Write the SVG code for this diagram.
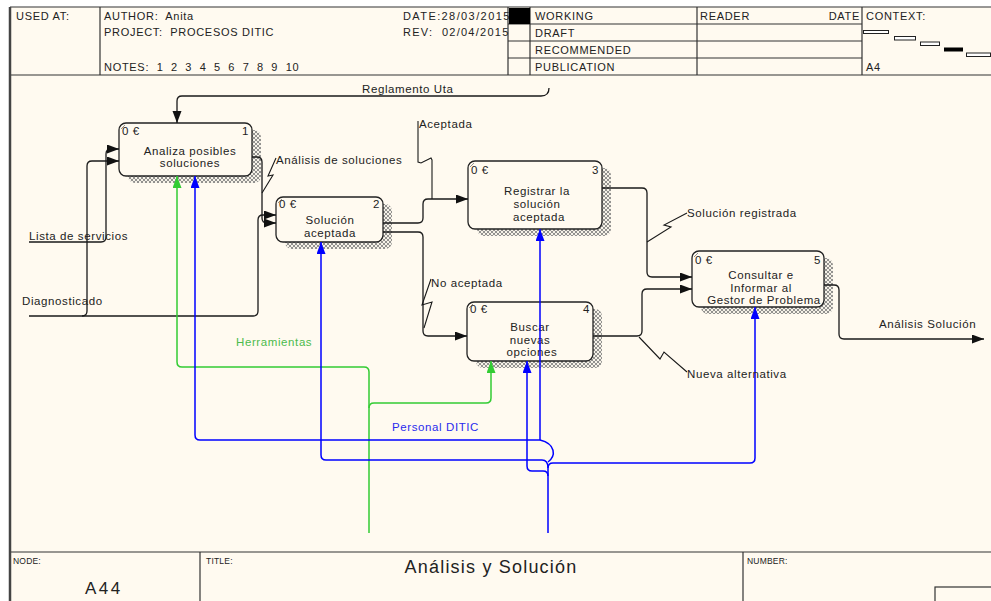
<svg xmlns="http://www.w3.org/2000/svg" width="991" height="601" viewBox="0 0 991 601">
<style>
text{font-family:"Liberation Sans",Arial,sans-serif;fill:#222}
.h{font-size:11px;letter-spacing:0.7px}
.t{font-size:11.5px;letter-spacing:0.6px}
.m{text-anchor:middle}
.e{text-anchor:end}
.f{font-size:8.5px;letter-spacing:0.2px}
.frame{stroke:#333;stroke-width:1.2;fill:none}
.box{fill:#fffaf0;stroke:#222;stroke-width:1.3}
.shadow{fill:url(#hatch)}
.k{fill:none;stroke:#1a1a1a;stroke-width:1.3}
.g{fill:none;stroke:#33cc33;stroke-width:1.5}
.b{fill:none;stroke:#0000ff;stroke-width:1.5}
.lead{fill:none;stroke:#1a1a1a;stroke-width:1.1}
</style>
<defs>
<pattern id="hatch" width="4" height="4" patternUnits="userSpaceOnUse">
<rect width="4" height="4" fill="#f6f2e8"/>
<path d="M0,4 L4,0 M-1,1 L1,-1 M3,5 L5,3 M0,0 L4,4" stroke="#7a7a7a" stroke-width="0.8"/>
</pattern>
<marker id="ak" markerUnits="userSpaceOnUse" markerWidth="13" markerHeight="10" refX="12" refY="4.5" orient="auto"><path d="M0,0 L12,4.5 L0,9 z" fill="#111"/></marker>
<marker id="ag" markerUnits="userSpaceOnUse" markerWidth="13" markerHeight="10" refX="12" refY="4.5" orient="auto"><path d="M0,0 L12,4.5 L0,9 z" fill="#33cc33"/></marker>
<marker id="ab" markerUnits="userSpaceOnUse" markerWidth="13" markerHeight="10" refX="12" refY="4.5" orient="auto"><path d="M0,0 L12,4.5 L0,9 z" fill="#0000ff"/></marker>
</defs>

<rect width="991" height="601" fill="#ffffff"/>
<rect x="10" y="7" width="981" height="594" fill="#fffaf0"/>

<g id="header">
<line x1="10" y1="7" x2="991" y2="7" class="frame"/>
<line x1="10" y1="75" x2="991" y2="75" class="frame"/>
<line x1="100" y1="7" x2="100" y2="75" class="frame"/>
<line x1="508" y1="7" x2="508" y2="75" class="frame"/>
<line x1="530" y1="7" x2="530" y2="75" class="frame"/>
<line x1="697" y1="7" x2="697" y2="75" class="frame"/>
<line x1="862" y1="7" x2="862" y2="75" class="frame"/>
<line x1="508" y1="24" x2="862" y2="24" class="frame"/>
<line x1="508" y1="41" x2="862" y2="41" class="frame"/>
<line x1="508" y1="58" x2="862" y2="58" class="frame"/>
<text x="16" y="20" class="h">USED AT:</text>
<text x="104" y="20" class="h" xml:space="preserve">AUTHOR:  Anita</text>
<text x="104" y="36" class="h" xml:space="preserve">PROJECT:  PROCESOS DITIC</text>
<text x="104" y="71" class="h" xml:space="preserve">NOTES:  1  2  3  4  5  6  7  8  9  10</text>
<text x="403" y="20" class="h" textLength="107">DATE:28/03/2015</text>
<text x="403" y="36" class="h" textLength="106" xml:space="preserve">REV:  02/04/2015</text>
<rect x="509" y="8" width="21" height="16" fill="#000"/>
<text x="535" y="20" class="h">WORKING</text>
<text x="535" y="37" class="h">DRAFT</text>
<text x="535" y="54" class="h">RECOMMENDED</text>
<text x="535" y="71" class="h">PUBLICATION</text>
<text x="700" y="20" class="h">READER</text>
<text x="860" y="20" class="h e">DATE</text>
<text x="866" y="20" class="h">CONTEXT:</text>
<text x="866" y="71" class="h">A4</text>
<rect x="863.5" y="30.5" width="25" height="3" fill="#fff" stroke="#222" stroke-width="1"/>
<rect x="894.5" y="36.5" width="21" height="3.5" fill="#fff" stroke="#222" stroke-width="1"/>
<rect x="920.5" y="42" width="19" height="3.5" fill="#fff" stroke="#222" stroke-width="1"/>
<rect x="944" y="47.5" width="19" height="4" fill="#000"/>
<rect x="966.5" y="53" width="24" height="3.5" fill="#fff" stroke="#222" stroke-width="1"/>
</g>

<g id="footer">
<line x1="10" y1="552" x2="991" y2="552" class="frame"/>
<line x1="200" y1="552" x2="200" y2="601" class="frame"/>
<line x1="743" y1="552" x2="743" y2="601" class="frame"/>
<rect x="935" y="587" width="60" height="20" class="frame"/>
<text x="13" y="564" class="f">NODE:</text>
<text x="206" y="564" class="f">TITLE:</text>
<text x="747" y="564" class="f">NUMBER:</text>
<text x="85" y="594" style="font-size:17px;letter-spacing:2.5px">A44</text>
<text x="491" y="573" class="m" style="font-size:18px;letter-spacing:1.2px">Análisis y Solución</text>
</g>
<line x1="10" y1="7" x2="10" y2="601" stroke="#444" stroke-width="2.5"/>

<g id="node1">
<rect x="128" y="130" width="133" height="53" rx="7" class="shadow"/>
<rect x="119" y="123" width="133" height="53" rx="7" class="box"/>
<line x1="121" y1="129" x2="125" y2="125" stroke="#777" stroke-width="0.8"/>
<text x="122" y="135" class="t">0 €</text>
<text x="249" y="135" class="t e">1</text>
<text x="190" y="155" class="t m">Analiza posibles</text>
<text x="190" y="167" class="t m">soluciones</text>
</g>
<g id="node2">
<rect x="285" y="204" width="107" height="45" rx="7" class="shadow"/>
<rect x="276" y="197" width="107" height="45" rx="7" class="box"/>
<line x1="278" y1="203" x2="282" y2="199" stroke="#777" stroke-width="0.8"/>
<text x="279" y="208" class="t">0 €</text>
<text x="380" y="208" class="t e">2</text>
<text x="330" y="224" class="t m">Solución</text>
<text x="330" y="237" class="t m">aceptada</text>
</g>
<g id="node3">
<rect x="477" y="168" width="134" height="68" rx="7" class="shadow"/>
<rect x="468" y="161" width="134" height="68" rx="7" class="box"/>
<line x1="470" y1="167" x2="474" y2="163" stroke="#777" stroke-width="0.8"/>
<text x="471" y="174" class="t">0 €</text>
<text x="599" y="174" class="t e">3</text>
<text x="537" y="195" class="t m">Registrar la</text>
<text x="537" y="208" class="t m">solución</text>
<text x="539" y="221" class="t m">aceptada</text>
</g>
<g id="node4">
<rect x="476" y="309" width="126" height="59" rx="7" class="shadow"/>
<rect x="467" y="302" width="126" height="59" rx="7" class="box"/>
<line x1="469" y1="308" x2="473" y2="304" stroke="#777" stroke-width="0.8"/>
<text x="470" y="313" class="t">0 €</text>
<text x="590" y="313" class="t e">4</text>
<text x="530" y="331" class="t m">Buscar</text>
<text x="530" y="344" class="t m">nuevas</text>
<text x="532" y="356" class="t m">opciones</text>
</g>
<g id="node5">
<rect x="701" y="258" width="132" height="56" rx="7" class="shadow"/>
<rect x="692" y="251" width="132" height="56" rx="7" class="box"/>
<line x1="694" y1="257" x2="698" y2="253" stroke="#777" stroke-width="0.8"/>
<text x="695" y="264" class="t">0 €</text>
<text x="821" y="264" class="t e">5</text>
<text x="761" y="279" class="t m">Consultar e</text>
<text x="761" y="292" class="t m">Informar al</text>
<text x="764" y="304" class="t m">Gestor de Problema</text>
</g>

<g id="connectors">
<path class="k" d="M549 88 Q549 96 541 96 L182 96 Q177 96 177 101 L177 123" marker-end="url(#ak)"/>
<path class="k" d="M29 242 L101 242 Q106 242 106 237 L106 154 Q106 149 111 149 L119 149" marker-end="url(#ak)"/>
<path class="k" d="M29 316 L253 316 Q258 316 258 311 L258 220 Q258 215 263 215 L276 215" marker-end="url(#ak)"/>
<path class="k" d="M82 316 Q87 316 87 311 L87 166 Q87 161 92 161 L119 161" marker-end="url(#ak)"/>
<path class="k" d="M252 157 L257 157 Q262 157 262 162 L262 218 Q262 223 267 223 L276 223" marker-end="url(#ak)"/>
<polyline class="lead" points="276,158 268,176 273,175 262,193"/>
<path class="k" d="M383 223 L418 223 Q423 223 423 218 L423 204 Q423 199 428 199 L468 199" marker-end="url(#ak)"/>
<polyline class="lead" points="418,121 418,162 421,163 431,158 432,160 432,199"/>
<path class="k" d="M383 232 L418 232 Q423 232 423 237 L423 331 Q423 336 428 336 L467 336" marker-end="url(#ak)"/>
<polyline class="lead" points="431,279 422,305 432,302 424,328"/>
<path class="k" d="M602 188 L642 188 Q647 188 647 193 L647 272 Q647 277 652 277 L692 277" marker-end="url(#ak)"/>
<polyline class="lead" points="687,213 664,225 671,227 647,242"/>
<path class="k" d="M593 336 L637 336 Q642 336 642 331 L642 294 Q642 289 647 289 L692 289" marker-end="url(#ak)"/>
<polyline class="lead" points="639,337 660,359 664,352 687,372"/>
<path class="k" d="M824 285 L834 285 Q839 285 839 290 L839 334 Q839 339 844 339 L984 339" marker-end="url(#ak)"/>
<path class="g" d="M369 533 L369 372 Q369 367 364 367 L182 367 Q177 367 177 362 L177 176" marker-end="url(#ag)"/>
<path class="g" d="M369 408 Q369 403 374 403 L486 403 Q491 403 491 398 L491 361" marker-end="url(#ag)"/>
<path class="b" d="M548 533 L548 476 Q548 471 543 471 L532 471 Q527 471 527 466 L527 361" marker-end="url(#ab)"/>
<path class="b" d="M548 476 L548 468 Q548 463 553 463 L750 463 Q755 463 755 458 L755 307" marker-end="url(#ab)"/>
<path class="b" d="M548 468 Q548 460 542 460 L326 460 Q321 460 321 455 L321 242" marker-end="url(#ab)"/>
<path class="b" d="M548 462 C556 456 556 444 540 440"/>
<path class="b" d="M540 440 L540 229" marker-end="url(#ab)"/>
<path class="b" d="M540 440 L200 440 Q195 440 195 435 L195 176" marker-end="url(#ab)"/>
</g>

<g id="labels">
<text x="362" y="93" class="t">Reglamento Uta</text>
<text x="29" y="240" class="t">Lista de servicios</text>
<text x="22" y="305" class="t">Diagnosticado</text>
<text x="276" y="164" class="t">Análisis de soluciones</text>
<text x="419" y="128" class="t">Aceptada</text>
<text x="431" y="287" class="t">No aceptada</text>
<text x="687" y="217" class="t">Solución registrada</text>
<text x="687" y="378" class="t">Nueva alternativa</text>
<text x="879" y="328" class="t">Análisis Solución</text>
<text x="236" y="346" class="t" style="fill:#4cbb4c">Herramientas</text>
<text x="392" y="431" class="t" style="fill:#2a2aee">Personal DITIC</text>
</g>
</svg>
